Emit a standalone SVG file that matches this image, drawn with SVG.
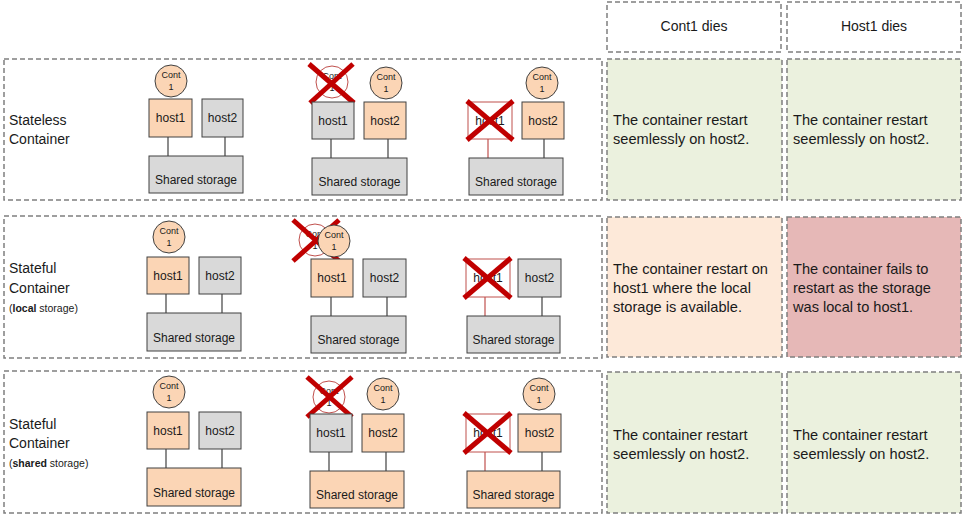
<svg xmlns="http://www.w3.org/2000/svg" width="962" height="515" viewBox="0 0 962 515">
<style>
.frame{fill:none;stroke:#7f7f7f;stroke-width:1.5;stroke-dasharray:5 3}
.cell{stroke:#7f7f7f;stroke-width:1.5;stroke-dasharray:5 3}
.green{fill:#ebf1de}.peach{fill:#fde9d9}.red{fill:#e6b8b7}.white{fill:#ffffff}
.or{fill:#fbd5b5;stroke:#404040;stroke-width:1}
.gr{fill:#d9d9d9;stroke:#404040;stroke-width:1}
.dead{fill:#ffffff;stroke:#c0504d;stroke-width:1}
.ln{stroke:#404040;stroke-width:1.2}
.rln{stroke:#c0504d;stroke-width:1.2}
.x{stroke:#c00000;stroke-width:5;stroke-linecap:butt}
text{font-family:"Liberation Sans",Arial,sans-serif;fill:#1a1a1a}
.lbl{font-size:14px}
.txt{font-size:14.6px}
.sm{font-size:10.5px}
.nd{font-size:12px;text-anchor:middle}
.ct{font-size:9px;text-anchor:middle}
.hd{font-size:14px;text-anchor:middle}
</style>

<!-- row frames -->
<g id="row-stateless"><rect class="frame" x="4" y="59" width="598" height="141"/>
<text class="lbl" x="9" y="125">Stateless</text><text class="lbl" x="9" y="144">Container</text></g>
<g id="row-stateful-local"><rect class="frame" x="4" y="216" width="598" height="142"/>
<text class="lbl" x="9" y="273">Stateful</text><text class="lbl" x="9" y="293">Container</text>
<text class="sm" x="9" y="312">(<tspan font-weight="bold">local</tspan> storage)</text></g>
<g id="row-stateful-shared"><rect class="frame" x="4" y="371" width="598" height="142"/>
<text class="lbl" x="9" y="429">Stateful</text><text class="lbl" x="9" y="448">Container</text>
<text class="sm" x="9" y="467">(<tspan font-weight="bold">shared</tspan> storage)</text></g>

<!-- header cells -->
<g id="hdr-cont1"><rect class="cell white" x="607" y="2" width="174" height="50"/><text class="hd" x="694" y="31">Cont1 dies</text></g>
<g id="hdr-host1"><rect class="cell white" x="787" y="2" width="174" height="50"/><text class="hd" x="874" y="31">Host1 dies</text></g>

<!-- result cells -->
<g id="r1c1"><rect class="cell green" x="607" y="59" width="175" height="141"/>
<text class="txt" x="613" y="125">The container restart</text><text class="txt" x="613" y="144">seemlessly on host2.</text></g>
<g id="r1c2"><rect class="cell green" x="787" y="59" width="174" height="141"/>
<text class="txt" x="793" y="125">The container restart</text><text class="txt" x="793" y="144">seemlessly on host2.</text></g>
<g id="r2c1"><rect class="cell peach" x="607" y="217" width="175" height="140"/>
<text class="txt" x="613" y="274">The container restart on</text><text class="txt" x="613" y="293">host1 where the local</text><text class="txt" x="613" y="312">storage is available.</text></g>
<g id="r2c2"><rect class="cell red" x="787" y="217" width="174" height="140"/>
<text class="txt" x="793" y="274">The container fails to</text><text class="txt" x="793" y="293">restart as the storage</text><text class="txt" x="793" y="312">was local to host1.</text></g>
<g id="r3c1"><rect class="cell green" x="607" y="372" width="175" height="141"/>
<text class="txt" x="613" y="440">The container restart</text><text class="txt" x="613" y="459">seemlessly on host2.</text></g>
<g id="r3c2"><rect class="cell green" x="787" y="372" width="174" height="141"/>
<text class="txt" x="793" y="440">The container restart</text><text class="txt" x="793" y="459">seemlessly on host2.</text></g>

<!-- connectors -->
<g id="connectors">
<line class="ln" x1="168" y1="137" x2="168" y2="156"/><line class="ln" x1="225" y1="137" x2="225" y2="156"/>
<line class="ln" x1="331" y1="139" x2="331" y2="158"/><line class="ln" x1="388" y1="139" x2="388" y2="158"/>
<line class="rln" x1="488" y1="139" x2="488" y2="158"/><line class="ln" x1="544" y1="139" x2="544" y2="158"/>
<line class="ln" x1="166" y1="294" x2="166" y2="313"/><line class="ln" x1="222" y1="294" x2="222" y2="313"/>
<line class="ln" x1="331" y1="297" x2="331" y2="316"/><line class="ln" x1="387" y1="297" x2="387" y2="316"/>
<line class="rln" x1="485" y1="297" x2="485" y2="316"/><line class="ln" x1="542" y1="297" x2="542" y2="316"/>
<line class="ln" x1="166" y1="449" x2="166" y2="468"/><line class="ln" x1="222" y1="449" x2="222" y2="468"/>
<line class="ln" x1="329" y1="452" x2="329" y2="471"/><line class="ln" x1="386" y1="452" x2="386" y2="471"/>
<line class="rln" x1="485" y1="452" x2="485" y2="471"/><line class="ln" x1="542" y1="452" x2="542" y2="471"/>
</g>

<!-- Row 1, diagram A -->
<g id="r1a-cont1"><circle class="or" cx="171" cy="81" r="16"/><text class="ct" x="171" y="78">Cont</text><text class="ct" x="171" y="90">1</text></g>
<g id="r1a-host1"><rect class="or" x="149" y="99" width="43" height="38"/><text class="nd" x="170.5" y="122">host1</text></g>
<g id="r1a-host2"><rect class="gr" x="202" y="99" width="41" height="38"/><text class="nd" x="222.5" y="122">host2</text></g>
<g id="r1a-storage"><rect class="gr" x="149" y="156" width="94" height="37"/><text class="nd" x="196" y="184">Shared storage</text></g>

<!-- Row 1, diagram B -->
<g id="r1b-cont1-dead"><circle class="dead" cx="332" cy="82" r="16"/><text class="ct" x="332" y="79">Cont</text><text class="ct" x="332" y="91">1</text>
<line class="x" x1="309" y1="64" x2="354" y2="103"/><line class="x" x1="353" y1="64" x2="310" y2="103"/></g>
<g id="r1b-host1"><rect class="gr" x="312" y="102" width="42" height="37"/><text class="nd" x="333" y="125">host1</text></g>
<g id="r1b-cont1"><circle class="or" cx="386" cy="83" r="16"/><text class="ct" x="386" y="80">Cont</text><text class="ct" x="386" y="92">1</text></g>
<g id="r1b-host2"><rect class="or" x="364" y="102" width="42" height="37"/><text class="nd" x="385" y="125">host2</text></g>
<g id="r1b-storage"><rect class="gr" x="312" y="158" width="95" height="37"/><text class="nd" x="359.5" y="186">Shared storage</text></g>

<!-- Row 1, diagram C -->
<g id="r1c-host1-dead"><rect class="dead" x="468" y="102" width="44" height="37"/><text class="nd" x="490" y="125">host1</text>
<line class="x" x1="467" y1="101" x2="513" y2="140"/><line class="x" x1="513" y1="101" x2="467" y2="140"/></g>
<g id="r1c-cont1"><circle class="or" cx="542" cy="83" r="16"/><text class="ct" x="542" y="80">Cont</text><text class="ct" x="542" y="92">1</text></g>
<g id="r1c-host2"><rect class="or" x="522" y="102" width="42" height="37"/><text class="nd" x="543" y="125">host2</text></g>
<g id="r1c-storage"><rect class="gr" x="469" y="158" width="94" height="37"/><text class="nd" x="516" y="186">Shared storage</text></g>

<!-- Row 2, diagram A -->
<g id="r2a-cont1"><circle class="or" cx="169" cy="237" r="16"/><text class="ct" x="169" y="234">Cont</text><text class="ct" x="169" y="246">1</text></g>
<g id="r2a-host1"><rect class="or" x="147" y="257" width="42" height="37"/><text class="nd" x="168" y="280">host1</text></g>
<g id="r2a-host2"><rect class="gr" x="199" y="257" width="42" height="37"/><text class="nd" x="220" y="280">host2</text></g>
<g id="r2a-storage"><rect class="gr" x="147" y="313" width="94" height="38"/><text class="nd" x="194" y="342">Shared storage</text></g>

<!-- Row 2, diagram B -->
<g id="r2b-cont1-dead"><circle class="dead" cx="315" cy="240" r="16"/><text class="ct" x="315" y="237">Cont</text><text class="ct" x="315" y="249">1</text>
<line class="x" x1="293" y1="220" x2="339" y2="261"/><line class="x" x1="339" y1="220" x2="293" y2="261"/></g>
<g id="r2b-cont1"><circle class="or" cx="334" cy="241" r="16"/><text class="ct" x="334" y="238">Cont</text><text class="ct" x="334" y="250">1</text></g>
<g id="r2b-host1"><rect class="or" x="311" y="259" width="42" height="38"/><text class="nd" x="332" y="282">host1</text></g>
<g id="r2b-host2"><rect class="gr" x="363" y="259" width="43" height="38"/><text class="nd" x="384.5" y="282">host2</text></g>
<g id="r2b-storage"><rect class="gr" x="311" y="316" width="95" height="37"/><text class="nd" x="358.5" y="344">Shared storage</text></g>

<!-- Row 2, diagram C -->
<g id="r2c-host1-dead"><rect class="dead" x="466" y="259" width="44" height="38"/><text class="nd" x="488" y="282">host1</text>
<line class="x" x1="464" y1="258" x2="511" y2="298"/><line class="x" x1="511" y1="258" x2="464" y2="298"/></g>
<g id="r2c-host2"><rect class="gr" x="518" y="259" width="43" height="38"/><text class="nd" x="539.5" y="282">host2</text></g>
<g id="r2c-storage"><rect class="gr" x="467" y="316" width="93" height="37"/><text class="nd" x="513.5" y="344">Shared storage</text></g>

<!-- Row 3, diagram A -->
<g id="r3a-cont1"><circle class="or" cx="169" cy="392" r="16"/><text class="ct" x="169" y="389">Cont</text><text class="ct" x="169" y="401">1</text></g>
<g id="r3a-host1"><rect class="or" x="147" y="412" width="42" height="37"/><text class="nd" x="168" y="435">host1</text></g>
<g id="r3a-host2"><rect class="gr" x="199" y="412" width="42" height="37"/><text class="nd" x="220" y="435">host2</text></g>
<g id="r3a-storage"><rect class="or" x="147" y="468" width="94" height="38"/><text class="nd" x="194" y="497">Shared storage</text></g>

<!-- Row 3, diagram B -->
<g id="r3b-cont1-dead"><circle class="dead" cx="329" cy="397" r="16"/><text class="ct" x="329" y="394">Cont</text><text class="ct" x="329" y="406">1</text>
<line class="x" x1="307" y1="377" x2="352" y2="417"/><line class="x" x1="352" y1="377" x2="307" y2="417"/></g>
<g id="r3b-host1"><rect class="gr" x="310" y="414" width="42" height="38"/><text class="nd" x="331" y="437">host1</text></g>
<g id="r3b-cont1"><circle class="or" cx="383" cy="394" r="16"/><text class="ct" x="383" y="391">Cont</text><text class="ct" x="383" y="403">1</text></g>
<g id="r3b-host2"><rect class="or" x="362" y="414" width="42" height="38"/><text class="nd" x="383" y="437">host2</text></g>
<g id="r3b-storage"><rect class="or" x="310" y="471" width="94" height="37"/><text class="nd" x="357" y="499">Shared storage</text></g>

<!-- Row 3, diagram C -->
<g id="r3c-host1-dead"><rect class="dead" x="466" y="414" width="44" height="38"/><text class="nd" x="488" y="437">host1</text>
<line class="x" x1="464" y1="413" x2="511" y2="453"/><line class="x" x1="511" y1="413" x2="464" y2="453"/></g>
<g id="r3c-cont1"><circle class="or" cx="539" cy="394" r="16"/><text class="ct" x="539" y="391">Cont</text><text class="ct" x="539" y="403">1</text></g>
<g id="r3c-host2"><rect class="or" x="518" y="414" width="43" height="38"/><text class="nd" x="539.5" y="437">host2</text></g>
<g id="r3c-storage"><rect class="or" x="467" y="471" width="93" height="37"/><text class="nd" x="513.5" y="499">Shared storage</text></g>
</svg>
